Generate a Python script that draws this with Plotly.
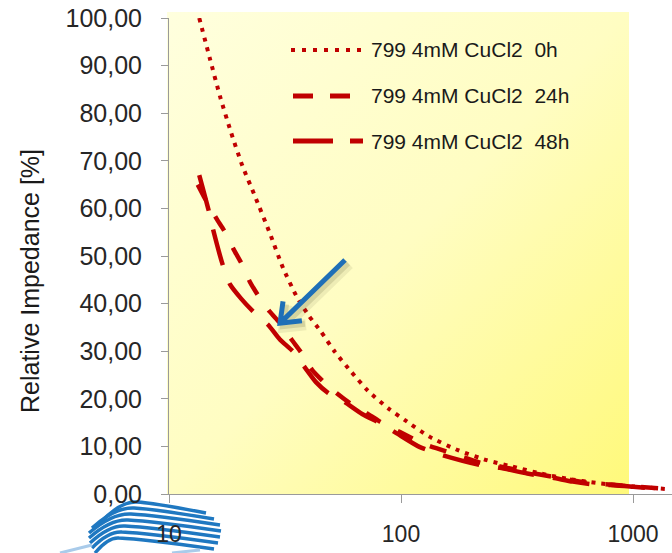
import base64
import math
import plotly.graph_objects as go

# Relative impedance vs frequency for sample 799 in 4 mM CuCl2
freq_0h = [13.5, 15.0, 16.6, 18.5, 20.7, 23.5, 27.2, 31.0, 35.5, 40.0, 45.2, 52.0,
           61.2, 72.0, 88.1, 104, 133, 176, 234, 300, 400, 520, 700, 1000, 1430]
imp_0h = [100.0, 91.5, 83.5, 76.0, 69.0, 62.5, 54.8, 47.5, 41.5, 37.5, 34.1, 29.8,
          25.6, 21.7, 18.0, 15.5, 12.0, 9.2, 7.1, 5.8, 4.3, 3.2, 2.3, 1.6, 1.0]

freq_24h = [13.3, 14.5, 16.0, 17.4, 19.0, 20.6, 22.3, 24.3, 27.2, 30.1, 33.8, 37.3,
            41.2, 46.3, 52.7, 60.2, 71.1, 81.1, 99, 127, 170, 219, 267, 350, 452,
            560, 673, 800, 1000, 1306]
imp_24h = [65.0, 61.5, 57.9, 55.1, 51.4, 48.3, 44.6, 41.6, 38.3, 35.9, 32.4, 29.6,
           26.2, 23.6, 21.2, 19.1, 17.0, 15.2, 13.0, 10.4, 8.4, 6.6, 5.8, 4.6, 3.6,
           2.8, 2.2, 2.0, 1.6, 1.2]

freq_48h = [13.5, 14.8, 15.5, 17.1, 18.3, 20.5, 23.1, 26.8, 30.0, 34.3, 38.5, 43.0,
            48.6, 56.4, 68, 81.1, 95.5, 120, 150, 219, 267, 350, 452, 550, 673, 800,
            1000, 1306]
imp_48h = [67.0, 59.7, 55.5, 47.9, 44.1, 41.0, 38.3, 35.5, 32.5, 29.9, 26.6, 23.5,
           21.2, 19.5, 16.8, 14.9, 12.8, 9.9, 8.2, 6.1, 5.5, 4.3, 3.4, 2.6, 2.0, 1.9,
           1.5, 1.1]

series_names = ["799 4mM CuCl2\u00a0\u00a00h", "799 4mM CuCl2\u00a0\u00a024h",
                "799 4mM CuCl2\u00a0\u00a048h"]
x_ticks = [10, 100, 1000]
y_ticks = [0, 10, 20, 30, 40, 50, 60, 70, 80, 90, 100]

RED = "#C00000"
FONT = "Arial, Liberation Sans, sans-serif"
W, H = 672, 553
PL, PR, PT, PB = 169, 672, 18, 494          # plot-area edges in pixels
X_RANGE = [1.0, 1.0 + (PR - PL) / 232.0]    # log10 range, ~232 px per decade
Y_RANGE = [0, 100]


def px(x):
    return (x - PL) / (PR - PL)


def py(y):
    return (PB - y) / (PB - PT)


def data_to_px(f, v):
    lx = math.log10(f)
    return (PL + (lx - X_RANGE[0]) / (X_RANGE[1] - X_RANGE[0]) * (PR - PL),
            PB - (v - Y_RANGE[0]) / (Y_RANGE[1] - Y_RANGE[0]) * (PB - PT))


fig = go.Figure()

styles = [
    dict(width=4, dash="4px,6px"),
    dict(width=4.5, dash="17px,19px"),
    dict(width=4.5, dash="37px,19px"),
]
for name, xs, ys, st in zip(series_names, [freq_0h, freq_24h, freq_48h],
                            [imp_0h, imp_24h, imp_48h], styles):
    fig.add_trace(go.Scatter(
        x=xs, y=ys, mode="lines", name=name, showlegend=False,
        line=dict(color=RED, width=st["width"], dash=st["dash"], shape="spline",
                  smoothing=0.6),
    ))

# diagonal cream-to-yellow gradient behind the plot
bx0, bx1, by0, by1 = 167, 629, 12, 494
bw, bh = bx1 - bx0, by1 - by0
svg = (
    f"<svg xmlns='http://www.w3.org/2000/svg' width='{bw}' height='{bh}' "
    f"viewBox='0 0 {bw} {bh}' preserveAspectRatio='none'>"
    "<defs><linearGradient id='g' x1='0' y1='0' x2='1' y2='1'>"
    "<stop offset='0' stop-color='#FFFFDE'/>"
    "<stop offset='0.5' stop-color='#FFFDC2'/>"
    "<stop offset='1' stop-color='#FFF97A'/>"
    "</linearGradient></defs>"
    f"<rect width='{bw}' height='{bh}' fill='url(#g)'/></svg>"
)
bg_src = "data:image/svg+xml;base64," + base64.b64encode(svg.encode()).decode()

shapes = []
annotations = []

# legend
leg_rows = [50, 96, 141]
leg_dash = ["4px,7px", "20px,17px", "40px,17px,13px,20px"]
leg_x0 = [291, 293, 293]
leg_x1 = [362, 352, 366]
leg_w = [4, 5, 5]
for name, yrow, dsh, x0, x1, lw in zip(series_names, leg_rows, leg_dash, leg_x0,
                                      leg_x1, leg_w):
    shapes.append(dict(type="line", xref="paper", yref="paper",
                       x0=px(x0), x1=px(x1), y0=py(yrow), y1=py(yrow),
                       line=dict(color=RED, width=lw, dash=dsh)))
    annotations.append(dict(xref="paper", yref="paper", x=px(369), y=py(yrow),
                            xanchor="left", yanchor="middle", showarrow=False,
                            text=name, font=dict(family=FONT, size=21,
                                                 color="#1a1a1a")))

# y-axis title
annotations.append(dict(xref="paper", yref="paper", x=px(30), y=py(281),
                        xanchor="center", yanchor="middle", showarrow=False,
                        textangle=-90, text="Relative Impedance [%]",
                        font=dict(family=FONT, size=25, color="#1a1a1a")))

# blue arrow pointing at the 24h curve
tip = data_to_px(freq_24h[9], imp_24h[9])
tail = (345, 260)
dx, dy = tip[0] - tail[0], tip[1] - tail[1]
ln = math.hypot(dx, dy)
ux, uy = dx / ln, dy / ln
arms = []
for ang in (math.radians(38), math.radians(-38)):
    # rotate the back-pointing unit vector by +/- ang
    rx = -ux * math.cos(ang) - (-uy) * math.sin(ang)
    ry = -ux * math.sin(ang) + (-uy) * math.cos(ang)
    arms.append((tip[0] + 22 * rx, tip[1] + 22 * ry))


def arrow_path(off):
    t = (tip[0] + off, tip[1] + off)
    s = (tail[0] + off, tail[1] + off)
    a1 = (arms[0][0] + off, arms[0][1] + off)
    a2 = (arms[1][0] + off, arms[1][1] + off)
    return (f"M {px(s[0])},{py(s[1])} L {px(t[0])},{py(t[1])} "
            f"M {px(a1[0])},{py(a1[1])} L {px(t[0])},{py(t[1])} "
            f"L {px(a2[0])},{py(a2[1])}")


shapes.append(dict(type="path", xref="paper", yref="paper", path=arrow_path(4),
                   line=dict(color="rgba(90,90,50,0.10)", width=11), layer="above"))
shapes.append(dict(type="path", xref="paper", yref="paper", path=arrow_path(3),
                   line=dict(color="rgba(80,80,40,0.16)", width=6), layer="above"))
shapes.append(dict(type="path", xref="paper", yref="paper", path=arrow_path(0),
                   line=dict(color="#1E6FB7", width=5), layer="above"))

# striped logo in the lower-left corner
stripes = [
    ((100, 523), (137, 502), (206, 513)),
    ((92, 528), (134, 508), (214, 519)),
    ((89, 533), (131, 514), (220, 525)),
    ((89, 538), (128, 520), (221, 531)),
    ((90, 543), (125, 526), (220, 537)),
    ((92, 548), (122, 532), (218, 543)),
    ((95, 553), (119, 538), (214, 549)),
]
for (l, p, r) in stripes:
    c1 = (l[0] + 0.55 * (p[0] - l[0]), p[1] - 1)
    c2 = (p[0] + 0.25 * (r[0] - p[0]), p[1] + 1)
    path = (f"M {px(l[0])},{py(l[1])} Q {px(c1[0])},{py(c1[1])} {px(p[0])},{py(p[1])} "
            f"Q {px(c2[0])},{py(c2[1])} {px(r[0])},{py(r[1])}")
    shapes.append(dict(type="path", xref="paper", yref="paper", path=path,
                       line=dict(color="#1F78C1", width=3.4), layer="below"))
for seg in [((60, 553), (92, 545)), ((172, 553), (200, 550))]:
    shapes.append(dict(type="line", xref="paper", yref="paper",
                       x0=px(seg[0][0]), y0=py(seg[0][1]),
                       x1=px(seg[1][0]), y1=py(seg[1][1]),
                       line=dict(color="#A9CBEA", width=3), layer="below"))

# y tick labels use a decimal comma; trailing spaces keep them clear of the ticks
y_ticktext = [f"{v:.2f}".replace(".", ",") + "\u00a0\u00a0" for v in y_ticks]

fig.update_layout(
    width=W, height=H, autosize=False,
    margin=dict(l=PL, r=W - PR, t=PT, b=H - PB, pad=0),
    paper_bgcolor="white", plot_bgcolor="rgba(0,0,0,0)",
    font=dict(family=FONT, color="#262626"),
    images=[dict(source=bg_src, xref="paper", yref="paper", x=px(bx0), y=py(by0),
                 sizex=bw / (PR - PL), sizey=bh / (PB - PT), xanchor="left",
                 yanchor="top", sizing="stretch", layer="below")],
    shapes=shapes, annotations=annotations,
    xaxis=dict(type="log", range=X_RANGE, tickmode="array", tickvals=x_ticks,
               ticktext=[str(v) for v in x_ticks], ticks="outside", ticklen=8,
               tickcolor="#9a9a9a", tickwidth=1.3, showline=True,
               linecolor="#9a9a9a", linewidth=1.3, showgrid=False, zeroline=False,
               tickfont=dict(family=FONT, size=23, color="#262626"),
               ticklabelstandoff=11, automargin=False),
    yaxis=dict(range=Y_RANGE, tickmode="array", tickvals=y_ticks,
               ticktext=y_ticktext, ticks="outside", ticklen=7,
               tickcolor="#9a9a9a", tickwidth=1.3, showline=True,
               linecolor="#9a9a9a", linewidth=1.3, showgrid=False, zeroline=False,
               tickfont=dict(family=FONT, size=25, color="#262626"),
               automargin=False),
)

fig.write_html("out.html")
